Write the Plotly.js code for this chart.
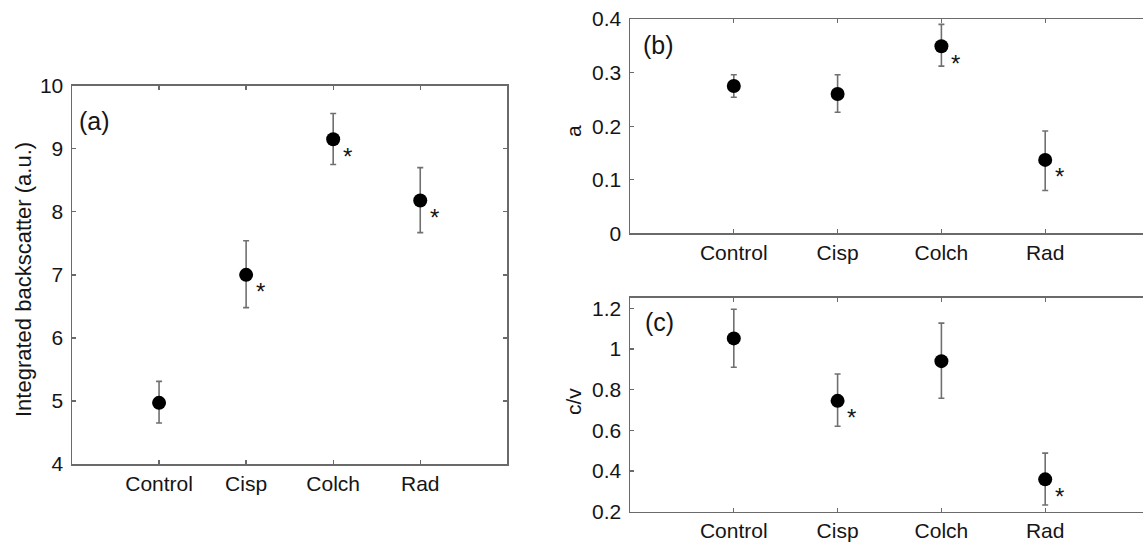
<!DOCTYPE html>
<html>
<head>
<meta charset="utf-8">
<script src="https://cdn.plot.ly/plotly-3.0.1.min.js"></script>
<style>html,body{margin:0;padding:0;background:#fff;overflow:hidden}#chart{width:1143px;height:545px}</style>
</head>
<body>
<div id="chart"></div>
<script>
// ---- data ----
const categories = ["Control", "Cisp", "Colch", "Rad"];
const catPos = [1, 2, 3, 4];

// (a) Integrated backscatter (a.u.)
const backMean  = [4.97, 7.00, 9.15, 8.18];
const backUpper = [5.31, 7.54, 9.56, 8.70];
const backLower = [4.65, 6.48, 8.75, 7.67];
const backStar  = [false, true, true, true];

// (b) a
const aMean  = [0.275, 0.260, 0.349, 0.137];
const aUpper = [0.296, 0.296, 0.390, 0.191];
const aLower = [0.254, 0.226, 0.312, 0.080];
const aStar  = [false, false, true, true];

// (c) c/v
const cvMean  = [1.052, 0.745, 0.940, 0.359];
const cvUpper = [1.195, 0.877, 1.127, 0.488];
const cvLower = [0.910, 0.620, 0.758, 0.233];
const cvStar  = [false, true, false, true];

// ---- styling ----
const FONT = "Liberation Sans, Arial, sans-serif";
const AXC = "#6a6a6a";
const TXT = "#151515";

function trace(mean, up, lo, xa, ya) {
  return {
    type: "scatter", mode: "markers",
    x: catPos, y: mean, xaxis: xa, yaxis: ya,
    marker: {symbol: "circle", size: 14, color: "#000"},
    error_y: {
      type: "data", symmetric: false,
      array: up.map((u, i) => u - mean[i]),
      arrayminus: lo.map((l, i) => mean[i] - l),
      color: "#707070", thickness: 1.6, width: 3
    },
    hoverinfo: "skip", showlegend: false
  };
}

function xAx(domain, range, anchor) {
  return {
    domain: domain, range: range, anchor: anchor,
    tickmode: "array", tickvals: catPos, ticktext: categories,
    ticks: "inside", ticklen: 4, tickwidth: 1.3, tickcolor: AXC,
    showline: true, linecolor: AXC, linewidth: 1.5, mirror: "ticks",
    showgrid: false, zeroline: false,
    tickfont: {family: FONT, size: 21, color: TXT},
    ticklabelstandoff: 0
  };
}
function yAx(domain, range, anchor, tickvals, ticktext, mirror) {
  return {
    domain: domain, range: range, anchor: anchor,
    tickmode: "array", tickvals: tickvals, ticktext: ticktext,
    ticks: "inside", ticklen: 4, tickwidth: 1.3, tickcolor: AXC,
    showline: true, linecolor: AXC, linewidth: 1.5, mirror: mirror,
    showgrid: false, zeroline: false,
    tickfont: {family: FONT, size: 21, color: TXT},
    ticklabelstandoff: 3
  };
}

const data = [
  trace(backMean, backUpper, backLower, "x", "y"),
  trace(aMean, aUpper, aLower, "x2", "y2"),
  trace(cvMean, cvUpper, cvLower, "x3", "y3")
];

const annotations = [];
function stars(mean, flags, xr, yr) {
  flags.forEach((f, i) => {
    if (!f) return;
    annotations.push({
      x: catPos[i], y: mean[i], xref: xr, yref: yr,
      text: "*", showarrow: false, xanchor: "center", yanchor: "middle",
      xshift: 14, yshift: -17,
      font: {family: FONT, size: 24, color: TXT}
    });
  });
}
stars(backMean, backStar, "x", "y");
stars(aMean, aStar, "x2", "y2");
stars(cvMean, cvStar, "x3", "y3");

function paperText(text, px, py, size, angle, xanchor) {
  annotations.push({
    text: text, xref: "paper", yref: "paper",
    x: px / 1143, y: 1 - py / 545,
    xanchor: xanchor, yanchor: "middle", showarrow: false,
    textangle: angle,
    font: {family: FONT, size: size, color: TXT}
  });
}
paperText("(a)", 77, 121, 25, 0, "left");
paperText("(b)", 641, 45, 25, 0, "left");
paperText("(c)", 643, 322, 25, 0, "left");
paperText("Integrated backscatter (a.u.)", 23, 280, 22, -90, "center");
paperText("a", 573, 131, 21, -90, "center");
paperText("c/v", 573, 402, 21, -90, "center");

const layout = {
  width: 1143, height: 545,
  margin: {l: 0, r: 0, t: 0, b: 0},
  paper_bgcolor: "#fff", plot_bgcolor: "#fff",
  showlegend: false,
  xaxis:  xAx([72 / 1143, 507.3 / 1143], [0, 5], "y"),
  yaxis:  yAx([1 - 464 / 545, 1 - 85.7 / 545], [4, 10], "x",
              [4, 5, 6, 7, 8, 9, 10], ["4", "5", "6", "7", "8", "9", "10"], "ticks"),
  xaxis2: xAx([630 / 1143, 1], [0, (1143 - 630) / 103.8], "y2"),
  yaxis2: yAx([1 - 233.3 / 545, 1 - 19 / 545], [0, 0.4], "x2",
              [0, 0.1, 0.2, 0.3, 0.4], ["0", "0.1", "0.2", "0.3", "0.4"], false),
  xaxis3: xAx([630 / 1143, 1], [0, (1143 - 630) / 103.8], "y3"),
  yaxis3: yAx([1 - 511.7 / 545, 1 - 297.7 / 545], [0.2, 1.252], "x3",
              [0.2, 0.4, 0.6, 0.8, 1.0, 1.2], ["0.2", "0.4", "0.6", "0.8", "1", "1.2"], false),
  annotations: annotations
};

Plotly.newPlot("chart", data, layout, {staticPlot: true, displayModeBar: false});
</script>
</body>
</html>
